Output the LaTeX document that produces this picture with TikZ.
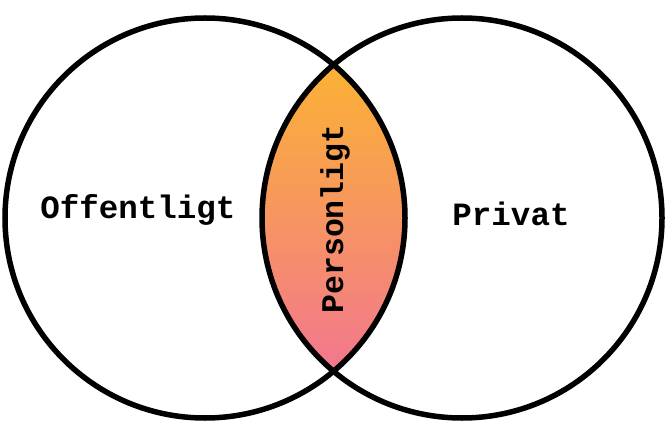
\documentclass[tikz,border=0pt]{standalone}
\usepackage{fontspec}
\newfontfamily\monofont{Liberation Mono}[BoldFont={Liberation Mono Bold}]
\definecolor{lenstop}{HTML}{FBB234}
\definecolor{lensbot}{HTML}{F2778F}
\begin{document}
\begin{tikzpicture}[x=1pt,y=-1pt,
  ring/.style={line width=5.5pt,draw=black},
  lbl/.style={font=\monofont\bfseries\fontsize{32.5}{32.5}\selectfont,inner sep=0pt,anchor=base}]
\useasboundingbox (0,0) rectangle (668,443);
\coordinate (cl) at (205,218);
\coordinate (cr) at (462,218);
\begin{scope}
  \clip (cl) circle (200);
  \clip (cr) circle (200);
  \shade[top color=lenstop,bottom color=lensbot] (262,64) rectangle (405,372);
\end{scope}
\draw[ring] (cl) circle (200);
\draw[ring] (cr) circle (200);
\node[lbl] (pub) at (138,219) {Offentligt};
\node[lbl] (priv) at (511,226) {Privat};
\node[lbl,font=\monofont\bfseries\fontsize{31.5}{31.5}\selectfont,rotate=90] (pers) at (343,219) {Personligt};
\end{tikzpicture}
\end{document}
